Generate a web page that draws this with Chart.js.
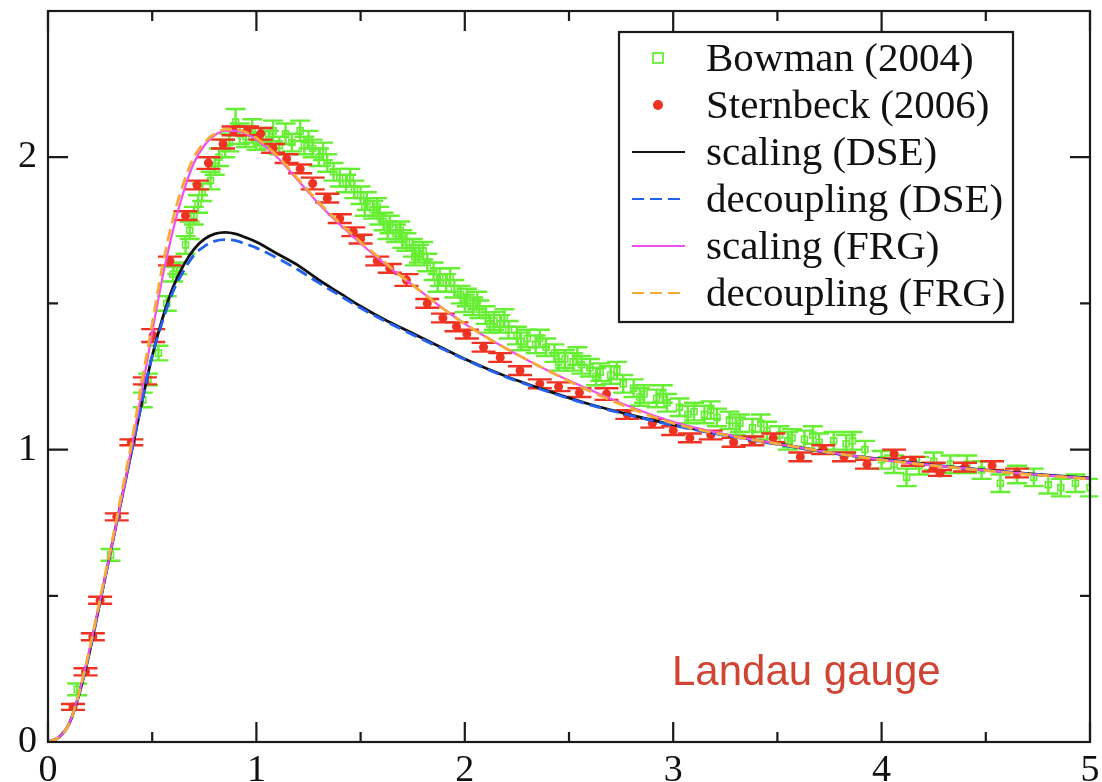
<!DOCTYPE html>
<html>
<head>
<meta charset="utf-8">
<script src="https://cdn.jsdelivr.net/npm/chart.js@4.4.1/dist/chart.umd.min.js"></script>
<style>
html,body{margin:0;padding:0;background:#fff;}
#wrap{width:1102px;height:782px;}
</style>
</head>
<body>
<div id="wrap"><canvas id="c" width="1102" height="782"></canvas></div>
<script>
// ---- tick values / labels ----
const xTickValues = [0, 1, 2, 3, 4, 5];
const xTickLabels = ['0', '1', '2', '3', '4', '5'];
const xMinorTicks = [0.5, 1.5, 2.5, 3.5, 4.5];
const yTickValues = [0, 1, 2];
const yTickLabels = ['0', '1', '2'];
const yMinorTicks = [0.5, 1.5];

// ---- theory curves ----
const curveX = [0, 0.05, 0.1, 0.15, 0.2, 0.25, 0.3, 0.35, 0.4, 0.45, 0.5, 0.55, 0.6, 0.65, 0.7, 0.75, 0.8, 0.85, 0.9, 0.95, 1.0,
  1.1, 1.2, 1.3, 1.4, 1.5, 1.6, 1.7, 1.8, 1.9, 2.0, 2.2, 2.4, 2.6, 2.8, 3.0, 3.25, 3.5, 3.75, 4.0, 4.25, 4.5, 4.75, 5.0];
const scalingDSE = [0, 0.015, 0.06, 0.165, 0.31, 0.48, 0.65, 0.82, 0.99, 1.16, 1.32, 1.45, 1.555, 1.63, 1.685, 1.72, 1.738, 1.743, 1.738, 1.725, 1.71,
  1.67, 1.63, 1.58, 1.535, 1.49, 1.45, 1.415, 1.38, 1.345, 1.31, 1.25, 1.20, 1.155, 1.118, 1.085, 1.05, 1.02, 0.99, 0.967, 0.947, 0.93, 0.915, 0.903];
const decouplingDSE = [0, 0.015, 0.06, 0.165, 0.31, 0.48, 0.65, 0.82, 0.99, 1.16, 1.32, 1.44, 1.54, 1.61, 1.665, 1.695, 1.713, 1.718, 1.715, 1.703, 1.69,
  1.655, 1.615, 1.57, 1.527, 1.484, 1.446, 1.41, 1.376, 1.342, 1.308, 1.248, 1.198, 1.153, 1.116, 1.083, 1.048, 1.018, 0.989, 0.966, 0.946, 0.929, 0.914, 0.902];
const scalingFRG = [0, 0.015, 0.06, 0.17, 0.32, 0.485, 0.65, 0.82, 1.00, 1.20, 1.40, 1.59, 1.75, 1.88, 1.98, 2.04, 2.075, 2.09, 2.09, 2.08, 2.06,
  2.0, 1.92, 1.84, 1.77, 1.705, 1.645, 1.59, 1.535, 1.48, 1.43, 1.345, 1.27, 1.205, 1.145, 1.095, 1.052, 1.02, 0.99, 0.966, 0.946, 0.929, 0.914, 0.901];
const decouplingFRG = [0, 0.015, 0.06, 0.17, 0.32, 0.49, 0.66, 0.84, 1.02, 1.23, 1.43, 1.63, 1.79, 1.91, 2.00, 2.05, 2.08, 2.095, 2.095, 2.085, 2.065,
  2.005, 1.925, 1.845, 1.775, 1.71, 1.65, 1.59, 1.535, 1.48, 1.43, 1.345, 1.27, 1.20, 1.14, 1.09, 1.05, 1.02, 0.99, 0.965, 0.945, 0.928, 0.913, 0.90];

// ---- lattice data: Bowman (2004) ----
const bowmanX = [0.14, 0.30, 0.455, 0.48, 0.53, 0.57, 0.60, 0.62, 0.66, 0.68, 0.70, 0.72, 0.74, 0.78, 0.80, 0.82, 0.85, 0.87, 0.90, 0.92,
  0.95, 0.98, 1.00, 1.03, 1.06, 1.08, 1.11, 1.14, 1.17, 1.21, 1.23, 1.27, 1.30, 1.34, 1.37, 1.40, 1.43, 1.47, 1.50, 1.53,
  1.56, 1.59, 1.61, 1.64, 1.67, 1.70, 1.72, 1.75, 1.78, 1.82, 1.85, 1.88, 1.91, 1.95, 1.98, 2.01, 2.04, 2.07, 2.10, 2.14,
  2.17, 2.21, 2.25, 2.30, 2.34, 2.39, 2.43, 2.48, 2.52, 2.56, 2.60, 2.65, 2.70, 2.76, 2.81, 2.86, 2.92, 2.97, 3.03, 3.10,
  3.15, 3.21, 3.27, 3.32, 3.38, 3.45, 3.51, 3.57, 3.63, 3.70, 3.77, 3.83, 3.86, 3.92, 4.00, 4.06, 4.12, 4.18, 4.25, 4.33,
  4.41, 4.48, 4.57, 4.65, 4.73, 4.80, 4.86, 4.93, 5.00,
  1.25, 1.32, 1.45, 1.52, 1.58, 1.63, 1.69, 1.76, 1.80, 1.87, 1.93, 2.00, 2.06, 2.12, 2.19, 2.27, 2.36, 2.45, 2.54, 2.63,
  2.73, 2.84, 2.95, 3.07, 3.18, 3.30, 3.42, 3.55, 3.67];
const bowmanY = [0.18, 0.64, 1.17, 1.24, 1.33, 1.50, 1.60, 1.62, 1.70, 1.75, 1.80, 1.84, 1.88, 1.92, 1.97, 2.00, 2.03, 2.05, 2.12, 2.08,
  2.07, 2.09, 2.055, 2.07, 2.06, 2.09, 2.04, 2.08, 2.05, 2.09, 2.04, 2.03, 2.00, 1.98, 1.95, 1.93, 1.91, 1.89, 1.87, 1.85,
  1.82, 1.80, 1.78, 1.77, 1.74, 1.72, 1.71, 1.69, 1.67, 1.64, 1.61, 1.59, 1.57, 1.55, 1.53, 1.52, 1.49, 1.48, 1.46, 1.44,
  1.43, 1.41, 1.39, 1.38, 1.36, 1.35, 1.33, 1.31, 1.30, 1.29, 1.28, 1.265, 1.255, 1.225, 1.21, 1.19, 1.175, 1.16, 1.145, 1.13,
  1.12, 1.11, 1.10, 1.09, 1.075, 1.065, 1.05, 1.04, 1.035, 1.025, 1.03, 1.02, 1.03, 1.00, 0.965, 0.95, 0.905, 0.945, 0.96, 0.95,
  0.95, 0.93, 0.885, 0.915, 0.905, 0.88, 0.87, 0.885, 0.87,
  2.06, 2.02, 1.93, 1.83, 1.83, 1.75, 1.75, 1.66, 1.68, 1.57, 1.59, 1.50, 1.51, 1.43, 1.45, 1.37, 1.38, 1.30, 1.32, 1.25,
  1.27, 1.18, 1.19, 1.12, 1.135, 1.08, 1.09, 1.03, 1.05];
const bowmanErr = [0.02, 0.02, 0.025, 0.02, 0.025, 0.025, 0.025, 0.02, 0.03, 0.03, 0.03, 0.03, 0.03, 0.03, 0.03, 0.03, 0.03, 0.03, 0.045, 0.035,
  0.035, 0.04, 0.03, 0.03, 0.03, 0.035, 0.03, 0.035, 0.03, 0.035, 0.03, 0.03, 0.03, 0.03, 0.03, 0.03, 0.03, 0.03, 0.03, 0.03,
  0.03, 0.03, 0.03, 0.03, 0.03, 0.03, 0.03, 0.03, 0.03, 0.03, 0.03, 0.03, 0.03, 0.03, 0.03, 0.03, 0.03, 0.03, 0.03, 0.03,
  0.03, 0.03, 0.03, 0.03, 0.03, 0.03, 0.03, 0.03, 0.03, 0.03, 0.03, 0.03, 0.03, 0.03, 0.03, 0.03, 0.03, 0.03, 0.03, 0.03,
  0.03, 0.03, 0.03, 0.03, 0.03, 0.03, 0.03, 0.03, 0.03, 0.03, 0.03, 0.03, 0.03, 0.03, 0.03, 0.03, 0.03, 0.03, 0.03, 0.03,
  0.03, 0.03, 0.03, 0.03, 0.03, 0.03, 0.03, 0.03, 0.03,
  0.03, 0.03, 0.03, 0.03, 0.03, 0.03, 0.03, 0.03, 0.03, 0.03, 0.03, 0.03, 0.03, 0.03, 0.03, 0.03, 0.03, 0.03, 0.03, 0.03,
  0.03, 0.03, 0.03, 0.03, 0.03, 0.03, 0.03, 0.03, 0.03];

// ---- lattice data: Sternbeck (2006) ----
const sternbeckX = [0.12, 0.18, 0.215, 0.25, 0.33, 0.40, 0.465, 0.505, 0.585, 0.66, 0.715, 0.77, 0.84, 0.89, 0.955, 1.02, 1.08, 1.145, 1.21, 1.27,
  1.34, 1.40, 1.465, 1.50, 1.58, 1.64, 1.72, 1.82, 1.895, 1.96, 2.01, 2.09, 2.17, 2.265, 2.36, 2.45, 2.55, 2.68, 2.78, 2.90,
  3.00, 3.08, 3.18, 3.29, 3.38, 3.48, 3.61, 3.72, 3.82, 3.93, 4.06, 4.15, 4.25, 4.28, 4.40, 4.53, 4.65];
const sternbeckY = [0.12, 0.24, 0.36, 0.485, 0.77, 1.025, 1.235, 1.39, 1.645, 1.80, 1.905, 1.98, 2.045, 2.09, 2.09, 2.08, 2.03, 1.995, 1.96, 1.91,
  1.86, 1.79, 1.745, 1.72, 1.645, 1.62, 1.58, 1.50, 1.45, 1.42, 1.395, 1.35, 1.315, 1.27, 1.225, 1.215, 1.195, 1.19, 1.12, 1.09,
  1.065, 1.04, 1.05, 1.025, 1.03, 1.04, 0.975, 1.0, 0.975, 0.95, 0.985, 0.96, 0.94, 0.92, 0.94, 0.945, 0.92];
const sternbeckErr = [0.01, 0.012, 0.012, 0.012, 0.012, 0.01, 0.012, 0.022, 0.015, 0.015, 0.015, 0.02, 0.015, 0.015, 0.015, 0.02, 0.015, 0.015, 0.015, 0.02,
  0.015, 0.015, 0.015, 0.015, 0.015, 0.015, 0.02, 0.015, 0.015, 0.015, 0.015, 0.015, 0.015, 0.015, 0.015, 0.015, 0.015, 0.02, 0.015, 0.015,
  0.015, 0.015, 0.015, 0.015, 0.015, 0.015, 0.015, 0.015, 0.015, 0.015, 0.015, 0.015, 0.015, 0.01, 0.015, 0.015, 0.015];

const seriesLabels = ['Bowman (2004)', 'Sternbeck (2006)', 'scaling (DSE)', 'decoupling (DSE)', 'scaling (FRG)', 'decoupling (FRG)'];
const annotationText = 'Landau gauge';

// ---- build datasets ----
const toPts = (xs, ys) => xs.map((x, i) => ({x: x, y: ys[i]}));
const GREEN = '#66ee33', RED = '#ee3322', BLACK = '#111111', BLUE = '#2260f0', MAGENTA = '#f050f0', ORANGE = '#f8aa38';

const datasets = [
  {label: seriesLabels[0], data: toPts(bowmanX, bowmanY), errors: bowmanErr, errColor: GREEN, cap: 10,
   showLine: false, pointStyle: 'rect', pointRadius: 4.2, borderColor: GREEN, backgroundColor: 'rgba(0,0,0,0)', borderWidth: 1.6, order: 6, legendType: 'square'},
  {label: seriesLabels[1], data: toPts(sternbeckX, sternbeckY), errors: sternbeckErr, errColor: RED, cap: 12,
   showLine: false, pointStyle: 'circle', pointRadius: 4.5, borderColor: RED, backgroundColor: RED, borderWidth: 0, order: 5, legendType: 'dot'},
  {label: seriesLabels[2], data: toPts(curveX, scalingDSE), showLine: true, pointRadius: 0, borderColor: BLACK, borderWidth: 2.8,
   cubicInterpolationMode: 'monotone', order: 3, legendType: 'line', dash: []},
  {label: seriesLabels[3], data: toPts(curveX, decouplingDSE), showLine: true, pointRadius: 0, borderColor: BLUE, borderWidth: 2.8,
   borderDash: [12, 6], cubicInterpolationMode: 'monotone', order: 2, legendType: 'line', dash: [12, 6]},
  {label: seriesLabels[4], data: toPts(curveX, scalingFRG), showLine: true, pointRadius: 0, borderColor: MAGENTA, borderWidth: 2.2,
   cubicInterpolationMode: 'monotone', order: 1, legendType: 'line', dash: []},
  {label: seriesLabels[5], data: toPts(curveX, decouplingFRG), showLine: true, pointRadius: 0, borderColor: ORANGE, borderWidth: 2.8,
   borderDash: [12, 6], cubicInterpolationMode: 'monotone', order: 0, legendType: 'line', dash: [12, 6]}
];

// ---- plugins ----
const errorBars = {
  id: 'errorBars',
  beforeDatasetDraw(chart, args) {
    const ds = chart.data.datasets[args.index];
    if (!ds.errors) return;
    const ctx = chart.ctx, xs = chart.scales.x, ys = chart.scales.y, a = chart.chartArea;
    ctx.save();
    ctx.beginPath(); ctx.rect(a.left, a.top, a.right - a.left + 8, a.bottom - a.top); ctx.clip();
    ctx.strokeStyle = ds.errColor; ctx.lineWidth = 2.4;
    ds.data.forEach((p, i) => {
      const e = ds.errors[i];
      const px = xs.getPixelForValue(p.x);
      const y1 = ys.getPixelForValue(p.y + e), y2 = ys.getPixelForValue(p.y - e);
      ctx.beginPath();
      ctx.moveTo(px, y1); ctx.lineTo(px, y2);
      ctx.moveTo(px - ds.cap, y1); ctx.lineTo(px + ds.cap, y1);
      ctx.moveTo(px - ds.cap, y2); ctx.lineTo(px + ds.cap, y2);
      ctx.stroke();
    });
    ctx.restore();
  }
};

const frameTicks = {
  id: 'frameTicks',
  afterDatasetsDraw(chart) {
    const ctx = chart.ctx, a = chart.chartArea, xs = chart.scales.x, ys = chart.scales.y;
    ctx.save();
    ctx.strokeStyle = '#1a1a1a'; ctx.lineWidth = 2.2;
    ctx.strokeRect(a.left, a.top, a.right - a.left, a.bottom - a.top);
    ctx.beginPath();
    const major = 20, minor = 10;
    xTickValues.forEach(v => { const p = xs.getPixelForValue(v);
      ctx.moveTo(p, a.bottom); ctx.lineTo(p, a.bottom - major); ctx.moveTo(p, a.top); ctx.lineTo(p, a.top + major); });
    xMinorTicks.forEach(v => { const p = xs.getPixelForValue(v);
      ctx.moveTo(p, a.bottom); ctx.lineTo(p, a.bottom - minor); ctx.moveTo(p, a.top); ctx.lineTo(p, a.top + minor); });
    yTickValues.forEach(v => { const p = ys.getPixelForValue(v);
      ctx.moveTo(a.left, p); ctx.lineTo(a.left + major, p); ctx.moveTo(a.right, p); ctx.lineTo(a.right - major, p); });
    yMinorTicks.forEach(v => { const p = ys.getPixelForValue(v);
      ctx.moveTo(a.left, p); ctx.lineTo(a.left + minor, p); ctx.moveTo(a.right, p); ctx.lineTo(a.right - minor, p); });
    ctx.stroke();
    ctx.restore();
  }
};

const boxLegend = {
  id: 'boxLegend',
  afterDraw(chart) {
    const ctx = chart.ctx, a = chart.chartArea;
    const L = a.left + 571, T = a.top + 21, W = 394, H = 290;
    ctx.save();
    ctx.fillStyle = '#fff'; ctx.fillRect(L, T, W, H);
    ctx.strokeStyle = '#1a1a1a'; ctx.lineWidth = 2.2; ctx.strokeRect(L, T, W, H);
    ctx.font = '41px "Liberation Serif", "Times New Roman", serif';
    ctx.textBaseline = 'alphabetic'; ctx.textAlign = 'left';
    chart.data.datasets.forEach((ds, i) => {
      const cy = T + 26 + i * 47;
      const sx = L + 39;
      if (ds.legendType === 'square') {
        ctx.strokeStyle = ds.borderColor; ctx.lineWidth = 1.8; ctx.strokeRect(sx - 5, cy - 5, 10, 10);
      } else if (ds.legendType === 'dot') {
        ctx.fillStyle = ds.backgroundColor; ctx.beginPath(); ctx.arc(sx, cy, 5, 0, Math.PI * 2); ctx.fill();
      } else {
        ctx.strokeStyle = ds.borderColor; ctx.lineWidth = 2.2; ctx.setLineDash(ds.dash);
        ctx.beginPath(); ctx.moveTo(L + 13, cy); ctx.lineTo(L + 66, cy); ctx.stroke(); ctx.setLineDash([]);
      }
      ctx.fillStyle = '#111';
      ctx.fillText(ds.label, L + 87, cy + 13);
    });
    // annotation
    ctx.font = '42px "Liberation Sans", Arial, sans-serif';
    ctx.fillStyle = '#d04434';
    ctx.fillText(annotationText, a.left + 624, a.top + 674);
    ctx.restore();
  }
};

new Chart(document.getElementById('c'), {
  type: 'scatter',
  data: {datasets: datasets},
  options: {
    responsive: false,
    animation: false,
    layout: {padding: {left: 0, top: 11, right: 12, bottom: 0}},
    plugins: {legend: {display: false}, tooltip: {enabled: false}},
    scales: {
      x: {
        type: 'linear', min: 0, max: 5,
        grid: {display: false, drawTicks: false}, border: {display: false},
        afterBuildTicks: s => { s.ticks = xTickValues.map(v => ({value: v})); },
        afterFit: s => { s.height = 40; s.paddingLeft = 0; s.paddingRight = 0; },
        ticks: {padding: 6, color: '#111', font: {family: '"Liberation Serif", serif', size: 38},
                callback: (v) => xTickLabels[xTickValues.indexOf(v)]}
      },
      y: {
        type: 'linear', min: 0, max: 2.5,
        grid: {display: false, drawTicks: false}, border: {display: false},
        afterBuildTicks: s => { s.ticks = yTickValues.map(v => ({value: v})); },
        afterFit: s => { s.width = 48; s.paddingTop = 0; s.paddingBottom = 0; },
        ticks: {padding: 11, color: '#111', font: {family: '"Liberation Serif", serif', size: 38},
                callback: (v) => yTickLabels[yTickValues.indexOf(v)]}
      }
    }
  },
  plugins: [errorBars, frameTicks, boxLegend]
});
</script>
</body>
</html>
